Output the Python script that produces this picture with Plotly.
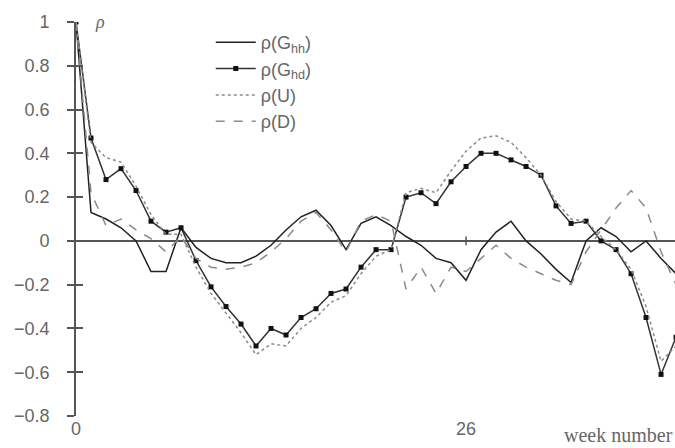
import plotly.graph_objects as go

# Autocorrelation by lag (weeks)
lags = list(range(0, 41))

rho_g_hh = [1.00, 0.13, 0.10, 0.06, 0.00, -0.14, -0.14, 0.06, -0.03, -0.08,
            -0.10, -0.10, -0.07, -0.02, 0.05, 0.11, 0.14, 0.07, -0.04, 0.08,
            0.11, 0.07, 0.02, -0.02, -0.08, -0.10, -0.18, -0.04, 0.04, 0.09,
            0.00, -0.06, -0.13, -0.19, 0.00, 0.06, 0.02, -0.05, 0.00, -0.08,
            -0.15]

rho_g_hd = [1.00, 0.47, 0.28, 0.33, 0.23, 0.09, 0.04, 0.06, -0.09, -0.21,
            -0.30, -0.38, -0.48, -0.40, -0.43, -0.35, -0.31, -0.24, -0.22, -0.12,
            -0.04, -0.04, 0.20, 0.22, 0.17, 0.27, 0.34, 0.40, 0.40, 0.37,
            0.34, 0.30, 0.16, 0.08, 0.09, 0.00, -0.04, -0.15, -0.35, -0.61,
            -0.44]

rho_u = [1.00, 0.45, 0.38, 0.36, 0.25, 0.12, 0.03, 0.03, -0.12, -0.24,
         -0.33, -0.42, -0.52, -0.47, -0.48, -0.40, -0.35, -0.28, -0.25, -0.15,
         -0.07, -0.04, 0.22, 0.24, 0.22, 0.32, 0.41, 0.47, 0.48, 0.45,
         0.38, 0.30, 0.18, 0.10, 0.09, 0.02, -0.04, -0.13, -0.30, -0.55,
         -0.48]

rho_d = [1.00, 0.22, 0.07, 0.10, 0.05, 0.01, -0.05, 0.02, -0.08, -0.12,
         -0.13, -0.12, -0.10, -0.05, 0.01, 0.09, 0.13, 0.05, -0.05, 0.09,
         0.12, 0.09, -0.22, -0.12, -0.24, -0.12, -0.14, -0.08, -0.02, -0.08,
         -0.12, -0.15, -0.18, -0.20, -0.05, 0.05, 0.15, 0.23, 0.15, -0.05,
         -0.20]

y_ticks = [1, 0.8, 0.6, 0.4, 0.2, 0, -0.2, -0.4, -0.6, -0.8]
y_labels = ["1", "0.8", "0.6", "0.4", "0.2", "0", "\u22120.2", "\u22120.4", "\u22120.6", "\u22120.8"]
x_ticks = [0, 26]
x_labels = ["0", "26"]

TXT = "#666666"
AX = "#555555"
FONT = "Liberation Sans"

fig = go.Figure()

fig.add_trace(go.Scatter(
    x=lags, y=rho_g_hh, mode="lines", name="\u03c1(G<sub>hh</sub>)",
    line=dict(color="#222222", width=1.5), legendgroup="a"))
fig.add_trace(go.Scatter(
    x=lags, y=rho_g_hd, mode="lines+markers", name="\u03c1(G<sub>hd</sub>)",
    line=dict(color="#333333", width=1.5),
    marker=dict(symbol="square", size=5, color="#111111"), legendgroup="b"))
fig.add_trace(go.Scatter(
    x=lags, y=rho_u, mode="lines", name="\u03c1(U)",
    line=dict(color="#8a8a8a", width=1.5, dash="dot"), legendgroup="c"))
fig.add_trace(go.Scatter(
    x=lags, y=rho_d, mode="lines", name="\u03c1(D)",
    line=dict(color="#8a8a8a", width=1.5, dash="dash"), legendgroup="d"))

# tick mark on the horizontal zero line at the labelled week
for xv in x_ticks[1:]:
    fig.add_shape(type="line", x0=xv, x1=xv, y0=-0.02, y1=0.02,
                  line=dict(color=AX, width=1.5))

fig.update_layout(
    width=675, height=448,
    margin=dict(l=76, r=0, t=22, b=32),
    paper_bgcolor="white", plot_bgcolor="white",
    font=dict(family=FONT, size=18, color=TXT),
    showlegend=True,
    legend=dict(x=0.225, y=0.995, xanchor="left", yanchor="top",
                bgcolor="rgba(0,0,0,0)", font=dict(size=18, color=TXT),
                tracegroupgap=0, itemwidth=40),
    xaxis=dict(range=[0, 39.93], tickvals=x_ticks, ticktext=x_labels,
               showgrid=False, zeroline=False, showline=False, ticks=""),
    yaxis=dict(range=[-0.8, 1.0], tickvals=y_ticks, ticktext=y_labels,
               showgrid=False, zeroline=True, zerolinecolor=AX, zerolinewidth=1.6,
               showline=True, linecolor=AX, linewidth=1.6,
               ticks="outside", ticklen=7, tickcolor=AX, tickwidth=1.6,
               ticklabelstandoff=14),
    yaxis2=dict(range=[-0.8, 1.0], tickvals=y_ticks, showticklabels=False,
                overlaying="y", side="left", showgrid=False, zeroline=False,
                showline=False, ticks="inside", ticklen=7, tickcolor=AX, tickwidth=1.6),
)

# invisible trace so the overlaying axis is drawn
fig.add_trace(go.Scatter(x=[0], y=[0], yaxis="y2", mode="markers",
                         marker=dict(opacity=0), showlegend=False, hoverinfo="skip"))

fig.add_annotation(text="<i>\u03c1</i>", xref="x", yref="y", x=0, y=1.0, xshift=24,
                   showarrow=False, font=dict(size=18, color=TXT, family="Liberation Serif"))
fig.add_annotation(text="week number", xref="paper", yref="paper", x=1.0, y=0,
                   xanchor="right", yanchor="top", yshift=-6, showarrow=False,
                   font=dict(size=20, color=TXT, family="Liberation Serif"))

fig.write_html("out.html")
